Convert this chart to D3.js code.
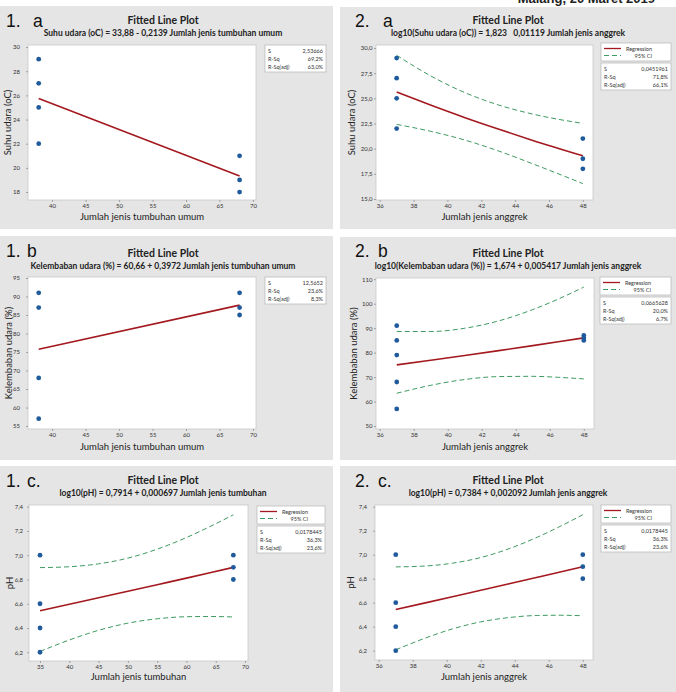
<!DOCTYPE html>
<html><head><meta charset="utf-8">
<script src="https://cdn.jsdelivr.net/npm/d3@7"></script>
<style>body{margin:0;background:#fff}svg{display:block}</style>
</head><body>
<script>
// ---------- DATA ----------
// Panel 1a
const p1a_x = [38,38,38,38,68,68,68];
const p1a_y = [29,27,25,22,21,19,18];
const p1a_fitX = [38,68];
const p1a_fitY = [25.75,19.33];
const p1a_xTicks = [40,45,50,55,60,65,70];
const p1a_yTicks = [18,20,22,24,26,28,30];
const p1a_yTickLabels = ["18","20","22","24","26","28","30"];
const p1a_stats = ["2,53666","69,2%","63,0%"];
// Panel 2a
const p2a_x = [37,37,37,37,48,48,48];
const p2a_y = [29,27,25,22,21,19,18];
const p2a_fitX = [37,39,41,43,45,48];
const p2a_fitY = [25.62,24.33,23.10,21.95,20.84,19.29];
const p2a_upY = [29.28,27.24,25.59,24.35,23.45,22.51];
const p2a_loY = [22.41,21.73,20.87,19.78,18.52,16.53];
const p2a_xTicks = [36,38,40,42,44,46,48];
const p2a_yTicks = [15,17.5,20,22.5,25,27.5,30];
const p2a_yTickLabels = ["15,0","17,5","20,0","22,5","25,0","27,5","30,0"];
const p2a_stats = ["0,0451961","71,8%","66,1%"];
// Panel 1b
const p1b_x = [38,38,38,38,68,68,68];
const p1b_y = [91,87,68,57,91,87,85];
const p1b_fitX = [38,68];
const p1b_fitY = [75.75,87.67];
const p1b_xTicks = [40,45,50,55,60,65,70];
const p1b_yTicks = [55,60,65,70,75,80,85,90,95];
const p1b_yTickLabels = ["55","60","65","70","75","80","85","90","95"];
const p1b_stats = ["12,5652","23,6%","8,3%"];
// Panel 2b
const p2b_x = [37,37,37,37,37,48,48,48];
const p2b_y = [91,85,79,68,57,87,86,85];
const p2b_fitX = [37,39,41,43,45,46.5,48];
const p2b_fitY = [74.99,76.88,78.83,80.82,82.86,84.42,86.02];
const p2b_upY = [88.65,88.64,89.97,92.98,97.60,101.9,106.79];
const p2b_loY = [63.40,66.65,69.03,70.21,70.32,69.92,69.27];
const p2b_xTicks = [36,38,40,42,44,46,48];
const p2b_yTicks = [50,60,70,80,90,100,110];
const p2b_yTickLabels = ["50","60","70","80","90","100","110"];
const p2b_stats = ["0,0665628","20,0%","6,7%"];
// Panel 1c
const p1c_x = [35,35,35,35,68,68,68];
const p1c_y = [7.0,6.6,6.4,6.2,7.0,6.9,6.8];
const p1c_fitX = [35,40,45,50,55,60,64,68];
const p1c_fitY = [6.543,6.596,6.649,6.703,6.757,6.811,6.855,6.900];
const p1c_upY = [6.898,6.905,6.929,6.976,7.050,7.146,7.236,7.333];
const p1c_loY = [6.207,6.301,6.381,6.440,6.476,6.493,6.495,6.491];
const p1c_xTicks = [35,40,45,50,55,60,65,70];
const p1c_yTicks = [6.2,6.4,6.6,6.8,7.0,7.2,7.4];
const p1c_yTickLabels = ["6,2","6,4","6,6","6,8","7,0","7,2","7,4"];
const p1c_stats = ["0,0178445","36,3%","23,6%"];
// Panel 2c
const p2c_x = [37,37,37,37,48,48,48];
const p2c_y = [7.0,6.6,6.4,6.2,7.0,6.9,6.8];
const p2c_fitX = [37,38.67,40.33,42,43.67,45.33,46.67,48];
const p2c_fitY = [6.543,6.596,6.649,6.703,6.757,6.811,6.855,6.900];
const p2c_upY = [6.898,6.905,6.929,6.976,7.050,7.146,7.236,7.333];
const p2c_loY = [6.207,6.301,6.381,6.440,6.476,6.493,6.495,6.491];
const p2c_xTicks = [36,38,40,42,44,46,48];
const p2c_yTicks = [6.2,6.4,6.6,6.8,7.0,7.2,7.4];
const p2c_yTickLabels = ["6,2","6,4","6,6","6,8","7,0","7,2","7,4"];
const p2c_stats = ["0,0178445","36,3%","23,6%"];

const statNames = ["S","R-Sq","R-Sq(adj)"];
const legendNames = ["Regression","95% CI"];

// ---------- DRAW ----------
const W = 676, H = 692;
const svg = d3.select("body").append("svg").attr("width", W).attr("height", H);
const FONT = "Lato, 'Open Sans', sans-serif";
const C_BG = "#e5e5e5", C_DOT = "#1f5a9c", C_FIT = "#a3191f", C_CI = "#3f9a62";

svg.append("text").attr("x", 655).attr("y", 3).attr("text-anchor", "end")
  .attr("font-family", "'Liberation Sans', Arial, sans-serif").attr("font-weight", 700)
  .attr("font-size", 13).attr("fill", "#222").text("Malang, 20 Maret 2019");

function zip(a, b) { return a.map((v, i) => [v, b[i]]); }

function panel(c) {
  const g = svg.append("g");
  g.append("rect").attr("x", c.bg[0]).attr("y", c.bg[1]).attr("width", c.bg[2]).attr("height", c.bg[3]).attr("fill", C_BG);
  g.append("text").attr("x", c.num[0]).attr("y", c.num[1]).attr("font-family", "'Liberation Sans', Arial, sans-serif")
    .attr("font-size", 17.5).attr("fill", "#111").text(c.num[2]);
  g.append("text").attr("x", c.num[3]).attr("y", c.num[1]).attr("font-family", "'Liberation Sans', Arial, sans-serif")
    .attr("font-size", 17.5).attr("fill", "#111").text(c.num[4]);
  g.append("text").attr("x", c.tx).attr("y", c.ty).attr("text-anchor", "middle").attr("font-family", FONT)
    .attr("font-weight", 700).attr("font-size", 10.5).attr("fill", "#222").text("Fitted Line Plot");
  g.append("text").attr("x", c.tx).attr("y", c.ty + 12).attr("text-anchor", "middle").attr("font-family", FONT)
    .attr("font-weight", 700).attr("font-size", 8.5).attr("fill", "#222").text(c.sub);
  const p = c.plot;
  g.append("rect").attr("x", p[0]).attr("y", p[1]).attr("width", p[2] - p[0]).attr("height", p[3] - p[1])
    .attr("fill", "#fff").attr("stroke", "#c4c4c4").attr("stroke-width", 0.7);
  const x = d3.scaleLinear().domain(c.xDom).range([p[0], p[2]]);
  const y = d3.scaleLinear().domain(c.yDom).range([p[3], p[1]]);
  const ax = g.append("g").attr("transform", `translate(0,${p[3]})`)
    .call(d3.axisBottom(x).tickValues(c.xTicks).tickSize(2).tickPadding(2).tickFormat(d3.format("d")));
  const ay = g.append("g").attr("transform", `translate(${p[0]},0)`)
    .call(d3.axisLeft(y).tickValues(c.yTicks).tickSize(2).tickPadding(c.yPad).tickFormat((d, i) => c.yLabels[i]));
  [ax, ay].forEach(a => {
    a.select(".domain").remove();
    a.selectAll("line").attr("stroke", "#777").attr("stroke-width", 0.6);
    a.selectAll("text").attr("font-family", FONT).attr("font-size", 6).attr("fill", "#333");
  });
  g.append("text").attr("x", (p[0] + p[2]) / 2).attr("y", c.xlY).attr("text-anchor", "middle")
    .attr("font-family", FONT).attr("font-size", 9.5).attr("fill", "#222").text(c.xl);
  g.append("text").attr("transform", `translate(${c.ylX},${(p[1] + p[3]) / 2}) rotate(-90)`).attr("text-anchor", "middle")
    .attr("font-family", FONT).attr("font-size", 9.5).attr("fill", "#222").text(c.yl);
  const line = d3.line().x(d => x(d[0])).y(d => y(d[1])).curve(d3.curveMonotoneX);
  const lg = g.append("g");
  if (c.up) {
    lg.append("path").attr("d", line(zip(c.fitX, c.up))).attr("fill", "none").attr("stroke", C_CI)
      .attr("stroke-width", 1).attr("stroke-dasharray", "5,3");
    lg.append("path").attr("d", line(zip(c.fitX, c.lo))).attr("fill", "none").attr("stroke", C_CI)
      .attr("stroke-width", 1).attr("stroke-dasharray", "5,3");
  }
  lg.append("path").attr("d", line(zip(c.fitX, c.fitY))).attr("fill", "none").attr("stroke", C_FIT)
    .attr("stroke-width", 1.6);
  g.append("g").selectAll("circle").data(zip(c.px, c.py)).join("circle")
    .attr("cx", d => x(d[0])).attr("cy", d => y(d[1])).attr("r", 2.4).attr("fill", C_DOT);
  let sy = c.box[1];
  const bx = c.box[0], bw = c.box[2];
  if (c.up) {
    g.append("rect").attr("x", bx).attr("y", sy).attr("width", bw).attr("height", 18)
      .attr("fill", "#fff").attr("stroke", "#b5b5b5").attr("stroke-width", 0.7);
    g.append("line").attr("x1", bx + 3).attr("x2", bx + 20).attr("y1", sy + 5.5).attr("y2", sy + 5.5)
      .attr("stroke", C_FIT).attr("stroke-width", 1.3);
    g.append("line").attr("x1", bx + 3).attr("x2", bx + 20).attr("y1", sy + 12.5).attr("y2", sy + 12.5)
      .attr("stroke", C_CI).attr("stroke-width", 1).attr("stroke-dasharray", "5,3");
    legendNames.forEach((n, i) => g.append("text").attr("x", bx + 51).attr("y", sy + 7.5 + i * 7)
      .attr("text-anchor", "end").attr("font-family", FONT).attr("font-size", 5.5).attr("fill", "#333").text(n));
    sy += 20;
  }
  g.append("rect").attr("x", bx).attr("y", sy).attr("width", bw).attr("height", 27)
    .attr("fill", "#fff").attr("stroke", "#b5b5b5").attr("stroke-width", 0.7);
  statNames.forEach((n, i) => {
    g.append("text").attr("x", bx + 3).attr("y", sy + 7.5 + i * 8).attr("font-family", FONT)
      .attr("font-size", 5.5).attr("fill", "#333").text(n);
    g.append("text").attr("x", bx + bw - 3).attr("y", sy + 7.5 + i * 8).attr("text-anchor", "end")
      .attr("font-family", FONT).attr("font-size", 5.5).attr("fill", "#333").text(c.stats[i]);
  });
}

panel({bg:[0,6,333,223], num:[6,27,"1.",33,"a"], tx:163, ty:24,
  sub:"Suhu udara (oC) = 33,88 - 0,2139 Jumlah jenis tumbuhan umum",
  plot:[28,45,256,200], xDom:[36.4,70.45], yDom:[17.34,30.17], xTicks:p1a_xTicks, yTicks:p1a_yTicks,
  yLabels:p1a_yTickLabels, yPad:6, xlY:220, ylX:11, xl:"Jumlah jenis tumbuhan umum", yl:"Suhu udara (oC)",
  px:p1a_x, py:p1a_y, fitX:p1a_fitX, fitY:p1a_fitY, box:[265,45,61], stats:p1a_stats});

panel({bg:[340,7,336,222], num:[355,27,"2.",383,"a"], tx:508, ty:24,
  sub:"log10(Suhu udara (oC)) = 1,823\u00A0\u00A0\u00A00,01119 Jumlah jenis anggrek",
  plot:[376,45,593,200], xDom:[35.78,48.6], yDom:[14.9,30.3], xTicks:p2a_xTicks, yTicks:p2a_yTicks,
  yLabels:p2a_yTickLabels, yPad:1.5, xlY:220, ylX:355, xl:"Jumlah jenis anggrek", yl:"Suhu udara (oC)",
  px:p2a_x, py:p2a_y, fitX:p2a_fitX, fitY:p2a_fitY, up:p2a_upY, lo:p2a_loY, box:[601,43,70], stats:p2a_stats});

panel({bg:[0,236,333,224], num:[6,256.5,"1.",27,"b"], tx:163, ty:257,
  sub:"Kelembaban udara (%) = 60,66 + 0,3972 Jumlah jenis tumbuhan umum",
  plot:[28,277,256,429], xDom:[36.4,70.45], yDom:[54.2,95.27], xTicks:p1b_xTicks, yTicks:p1b_yTicks,
  yLabels:p1b_yTickLabels, yPad:6, xlY:450, ylX:12, xl:"Jumlah jenis tumbuhan umum", yl:"Kelembaban udara (%)",
  px:p1b_x, py:p1b_y, fitX:p1b_fitX, fitY:p1b_fitY, box:[265,277,61], stats:p1b_stats});

panel({bg:[340,237,336,223], num:[355,256.5,"2.",378,"b"], tx:508, ty:257,
  sub:"log10(Kelembaban udara (%)) = 1,674 + 0,005417 Jumlah jenis anggrek",
  plot:[376,278,594,429], xDom:[35.78,48.6], yDom:[48.8,110.5], xTicks:p2b_xTicks, yTicks:p2b_yTicks,
  yLabels:p2b_yTickLabels, yPad:1.5, xlY:450, ylX:357, xl:"Jumlah jenis anggrek", yl:"Kelembaban udara (%)",
  px:p2b_x, py:p2b_y, fitX:p2b_fitX, fitY:p2b_fitY, up:p2b_upY, lo:p2b_loY, box:[600,277,71], stats:p2b_stats});

panel({bg:[0,466,333,226], num:[6,487,"1.",27,"c."], tx:163, ty:484,
  sub:"log10(pH) = 0,7914 + 0,000697 Jumlah jenis tumbuhan",
  plot:[29,505,248,661], xDom:[33.12,70.5], yDom:[6.128,7.414], xTicks:p1c_xTicks, yTicks:p1c_yTicks,
  yLabels:p1c_yTickLabels, yPad:4, xlY:680, ylX:13, xl:"Jumlah jenis tumbuhan", yl:"pH",
  px:p1c_x, py:p1c_y, fitX:p1c_fitX, fitY:p1c_fitY, up:p1c_upY, lo:p1c_loY, box:[257,506,68], stats:p1c_stats});

panel({bg:[340,466,336,226], num:[355,487,"2.",378,"c."], tx:508, ty:484,
  sub:"log10(pH) = 0,7384 + 0,002092 Jumlah jenis anggrek",
  plot:[375,505,593,660], xDom:[35.78,48.6], yDom:[6.122,7.414], xTicks:p2c_xTicks, yTicks:p2c_yTicks,
  yLabels:p2c_yTickLabels, yPad:6, xlY:680, ylX:354, xl:"Jumlah jenis anggrek", yl:"pH",
  px:p2c_x, py:p2c_y, fitX:p2c_fitX, fitY:p2c_fitY, up:p2c_upY, lo:p2c_loY, box:[601,505,70], stats:p2c_stats});
</script>
</body></html>
